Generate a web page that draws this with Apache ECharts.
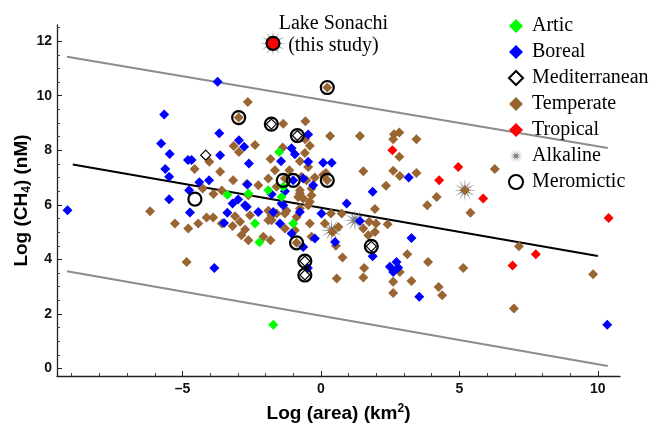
<!DOCTYPE html>
<html>
<head>
<meta charset="utf-8">
<script src="https://cdn.jsdelivr.net/npm/echarts@6/dist/echarts.min.js"></script>
<style>
  html, body { margin: 0; padding: 0; background: #fff; }
  #chart { width: 650px; height: 423px; }
</style>
</head>
<body>
<div id="chart"></div>
<script>
// log(area) [km2], log(CH4) [nM]
const articPts = [
  [-1.51, 7.94], [-1.90, 6.54], [-3.38, 6.37], [-2.62, 6.42], [-2.38, 5.32],
  [-2.22, 4.63], [-1.42, 6.29], [-1.36, 6.66], [-1.0, 5.32], [-1.72, 1.61]
]
const borealPts = [
  [-3.73, 10.51], [-5.66, 9.31], [-3.67, 8.62], [-2.96, 8.37], [-2.77, 8.13],
  [-5.77, 8.25], [-5.46, 7.86], [-4.80, 7.64], [-4.67, 7.64], [-3.64, 7.82],
  [-2.60, 7.52], [-5.62, 7.31], [-5.48, 7.03], [-4.04, 6.90], [-4.39, 6.83],
  [-2.65, 6.75], [-1.44, 7.60], [-1.06, 8.07], [-0.94, 7.85], [-0.46, 8.58],
  [-0.46, 7.58], [0.08, 7.54], [0.39, 7.54], [-0.64, 6.97], [-0.28, 6.72],
  [-1.0, 6.90], [-4.76, 6.54], [-5.48, 6.21], [-4.73, 5.72], [-3.19, 6.05],
  [-2.99, 6.20], [-2.74, 5.99], [-3.38, 5.71], [-3.50, 5.34], [-1.78, 6.39],
  [-1.30, 6.50], [-2.26, 5.74], [-2.68, 5.93], [-1.72, 5.74], [-1.42, 6.05],
  [-1.36, 5.99], [-0.76, 5.74], [-1.48, 5.32], [-0.22, 4.77], [-1.06, 4.95],
  [-0.64, 4.46], [0.51, 4.64], [0.02, 5.68], [0.93, 6.05], [1.41, 5.41],
  [1.87, 6.48], [3.17, 7.0], [1.87, 4.12], [3.27, 4.79], [2.49, 3.73],
  [2.73, 3.91], [2.79, 3.70], [2.61, 3.54], [3.55, 2.63], [-0.47, 3.69],
  [-3.85, 3.69], [-9.15, 5.80], [10.34, 1.61]
]
const mediterraneanPts = [
  [-4.16, 7.82], [-1.79, 8.96], [-0.85, 8.54], [-0.58, 3.94], [-0.58, 3.43], [1.82, 4.48]
]
const temperatePts = [
  [-2.64, 9.77], [-2.97, 9.20], [-1.36, 8.97], [-0.56, 9.06], [0.23, 10.30],
  [0.33, 8.52], [-3.15, 8.16], [-2.96, 7.94], [-2.38, 8.19], [-1.38, 8.10],
  [-0.57, 8.40], [-0.40, 8.17], [-0.58, 7.90], [-4.03, 7.58], [-4.56, 7.31],
  [-3.64, 7.21], [-3.17, 6.90], [-1.82, 7.68], [-1.66, 7.27], [-1.14, 7.27],
  [-1.30, 6.97], [-0.76, 7.60], [-0.46, 7.39], [-0.22, 7.0], [-1.90, 6.97],
  [-2.26, 6.72], [-3.88, 6.40], [-4.27, 6.60], [-2.68, 6.76], [0.23, 6.90],
  [-0.88, 4.61], [-1.60, 6.66], [-0.76, 6.54], [-0.34, 6.35], [-0.40, 6.11],
  [0.08, 7.09], [0.18, 7.17], [-0.82, 6.29], [-2.62, 6.35], [-2.56, 5.62],
  [-1.78, 5.62], [-1.30, 5.68], [-1.78, 5.44], [-0.88, 5.56], [-1.30, 5.13],
  [-0.94, 5.07], [-0.40, 5.32], [-0.34, 4.83], [-2.08, 4.83], [-2.62, 4.70],
  [-2.87, 4.89], [-1.82, 4.70], [-2.74, 5.10], [-3.19, 5.23], [-2.92, 5.38],
  [-3.10, 5.58], [-6.17, 5.77], [-5.27, 5.32], [-4.79, 5.13], [-4.43, 5.32],
  [-4.13, 5.54], [-3.89, 5.54], [-3.58, 5.32], [-4.85, 3.91], [-0.70, 7.03],
  [-0.52, 6.90], [-0.34, 6.60], [-0.76, 6.42], [-0.64, 6.23], [-0.76, 5.87],
  [-0.46, 5.99], [-1.90, 5.78], [-1.60, 5.68], [-1.24, 5.78], [-3.58, 6.53],
  [-1.90, 5.44], [0.36, 5.68], [0.75, 5.68], [0.14, 5.32], [0.63, 5.19],
  [0.42, 5.01], [1.53, 5.13], [1.74, 5.38], [1.99, 5.32], [1.95, 5.01],
  [1.71, 4.89], [2.41, 5.29], [0.54, 4.50], [0.78, 4.07], [1.95, 5.85],
  [1.41, 8.52], [2.64, 8.59], [2.83, 8.65], [2.61, 8.40], [3.45, 8.40],
  [2.83, 7.76], [1.53, 7.23], [2.61, 7.25], [2.85, 7.06], [3.45, 7.17],
  [6.28, 7.31], [2.35, 6.70], [4.18, 6.29], [3.84, 5.99], [5.40, 5.71],
  [5.20, 6.54], [3.12, 4.19], [3.87, 3.91], [5.14, 3.69], [2.85, 3.54],
  [1.56, 3.69], [1.53, 3.34], [0.57, 3.30], [2.61, 3.18], [3.27, 3.21],
  [4.25, 2.99], [4.38, 2.69], [2.61, 2.77], [7.15, 4.48], [6.97, 2.20],
  [9.83, 3.46]
]
const tropicalPts = [
  [2.58, 8.0], [4.96, 7.39], [4.27, 6.90], [5.86, 6.23], [6.92, 3.78], [7.76, 4.19], [10.39, 5.52]
]
const alkalinePts = [[5.20, 6.54], [1.23, 5.44], [0.39, 5.07]]
const meromicticPts = [
  [-2.97, 9.20], [-1.79, 8.96], [-0.85, 8.54], [0.23, 10.30], [-4.55, 6.21], [-1.36, 6.90],
  [-1.0, 6.90], [0.23, 6.90], [-0.88, 4.61], [-0.58, 3.94], [-0.58, 3.43], [1.82, 4.48]
]
const sonachiPt = [[-1.73, 11.92]]

// regression line and prediction band
const fitLine = [[-8.96, 7.48], [10.0, 4.13]]
const upperBand = [[-9.17, 11.43], [10.36, 8.08]]
const lowerBand = [[-9.17, 3.57], [10.36, 0.10]]

const xTicks = [-5, 0, 5, 10]
const xMinorTicks = [-9, -8, -7, -6, -4, -3, -2, -1, 1, 2, 3, 4, 6, 7, 8, 9]
const yTicks = [0, 2, 4, 6, 8, 10, 12]
const yMinorTicks = [0.5, 1, 1.5, 2.5, 3, 3.5, 4.5, 5, 5.5, 6.5, 7, 7.5, 8.5, 9, 9.5, 10.5, 11, 11.5, 12.5]

const legendNames = ['Artic', 'Boreal', 'Mediterranean', 'Temperate', 'Tropical', 'Alkaline', 'Meromictic']

function starPath(n, R, r) {
  const pts = []
  for (let i = 0; i < n * 2; i++) {
    const a = Math.PI * i / n - Math.PI / 2
    const rad = i % 2 === 0 ? R : r
    pts.push((R + rad * Math.cos(a)).toFixed(2) + ' ' + (R + rad * Math.sin(a)).toFixed(2))
  }
  return 'path://M' + pts.join(' L') + ' Z'
}
const STAR = starPath(12, 10, 2.4)

const xRange = [-9.53, 10.8]
const yRange = [-0.27, 12.59]
const sans = 'Liberation Sans'
const serif = 'Liberation Serif'

const chart = echarts.init(document.getElementById('chart'))

function diamonds(name, data, color, z) {
  return {
    name, type: 'scatter', data, symbol: 'diamond', symbolSize: 10, z,
    itemStyle: { color, opacity: 1 }
  }
}
function bandLine(data, color) {
  return {
    type: 'line', data, symbol: 'none', z: 1, silent: true,
    lineStyle: { color, width: 2 }
  }
}

chart.setOption({
  animation: false,
  grid: { left: 57, right: 30, top: 25, bottom: 47, outerBoundsMode: 'none' },
  legend: {
    data: legendNames,
    orient: 'vertical',
    left: 503,
    top: 11,
    itemWidth: 14,
    itemHeight: 14,
    itemGap: 6,
    textStyle: { fontFamily: serif, fontSize: 20, color: '#000', padding: [0, 0, 0, 4] }
  },
  xAxis: [
    {
      type: 'value', min: xRange[0], max: xRange[1],
      name: '{a|Log (area) (km}{p|2}{a|)}',
      nameLocation: 'middle', nameGap: 27,
      nameTextStyle: {
        rich: {
          a: { fontFamily: sans, fontWeight: 'bold', fontSize: 19, color: '#000', lineHeight: 22 },
          p: { fontFamily: sans, fontWeight: 'bold', fontSize: 12, color: '#000', lineHeight: 10, verticalAlign: 'top' }
        }
      },
      splitLine: { show: false },
      axisLine: { onZero: false, lineStyle: { color: '#222', width: 1.3 } },
      axisTick: { inside: true, length: 5, customValues: xTicks, lineStyle: { color: '#222' } },
      axisLabel: {
        customValues: xTicks, margin: 6,
        fontFamily: sans, fontWeight: 'bold', fontSize: 14, color: '#111',
        formatter: v => String(v).replace('-', '\u2013')
      }
    },
    {
      type: 'value', min: xRange[0], max: xRange[1], position: 'bottom',
      splitLine: { show: false },
      axisLine: { show: false, onZero: false },
      axisTick: { inside: true, length: 3, customValues: xMinorTicks, lineStyle: { color: '#444' } },
      axisLabel: { show: false }
    }
  ],
  yAxis: [
    {
      type: 'value', min: yRange[0], max: yRange[1],
      name: '{a|Log (CH}{s|4}{a|) (nM)}',
      nameLocation: 'middle', nameGap: 24, nameMoveOverlap: false,
      nameTextStyle: {
        rich: {
          a: { fontFamily: sans, fontWeight: 'bold', fontSize: 19, color: '#000', lineHeight: 22 },
          s: { fontFamily: sans, fontWeight: 'bold', fontSize: 12, color: '#000', lineHeight: 10, verticalAlign: 'bottom' }
        }
      },
      splitLine: { show: false },
      axisLine: { onZero: false, lineStyle: { color: '#222', width: 1.3 } },
      axisTick: { inside: true, length: 5, customValues: yTicks, lineStyle: { color: '#222' } },
      axisLabel: {
        customValues: yTicks, margin: 5,
        fontFamily: sans, fontWeight: 'bold', fontSize: 14, color: '#111'
      }
    },
    {
      type: 'value', min: yRange[0], max: yRange[1], position: 'left',
      splitLine: { show: false },
      axisLine: { show: false, onZero: false },
      axisTick: { inside: true, length: 3, customValues: yMinorTicks, lineStyle: { color: '#444' } },
      axisLabel: { show: false }
    }
  ],
  series: [
    bandLine(upperBand, '#8c8c8c'),
    bandLine(lowerBand, '#8c8c8c'),
    bandLine(fitLine, '#000'),
    {
      name: 'Alkaline', type: 'scatter', data: alkalinePts, symbol: STAR, symbolSize: 23, z: 2,
      itemStyle: { color: '#808080', opacity: 1 }
    },
    diamonds('Temperate', temperatePts, '#996633', 3),
    diamonds('Boreal', borealPts, '#0000ff', 4),
    diamonds('Artic', articPts, '#00ff00', 5),
    diamonds('Tropical', tropicalPts, '#ff0000', 5),
    {
      name: 'Mediterranean', type: 'scatter', data: mediterraneanPts, symbol: 'diamond', symbolSize: 10, z: 6,
      itemStyle: { color: '#fff', borderColor: '#000', borderWidth: 1.2, opacity: 1 }
    },
    {
      name: 'Meromictic', type: 'scatter', data: meromicticPts, symbol: 'circle', symbolSize: 13, z: 7,
      itemStyle: { color: 'rgba(0,0,0,0)', borderColor: '#000', borderWidth: 2.2, opacity: 1 }
    },
    {
      name: 'Lake Sonachi star', type: 'scatter', data: sonachiPt, symbol: STAR, symbolSize: 26, z: 8,
      itemStyle: { color: '#808080', opacity: 1 }
    },
    {
      name: 'Lake Sonachi', type: 'scatter', data: sonachiPt, symbol: 'circle', symbolSize: 13, z: 9,
      itemStyle: { color: '#ff0000', borderColor: '#000', borderWidth: 2.2, opacity: 1 },
      label: {
        show: true, formatter: 'Lake Sonachi\n(this study)',
        position: [68, -1], align: 'center', verticalAlign: 'middle',
        fontFamily: serif, fontSize: 20, lineHeight: 22, color: '#000'
      }
    }
  ]
})
</script>
</body>
</html>
